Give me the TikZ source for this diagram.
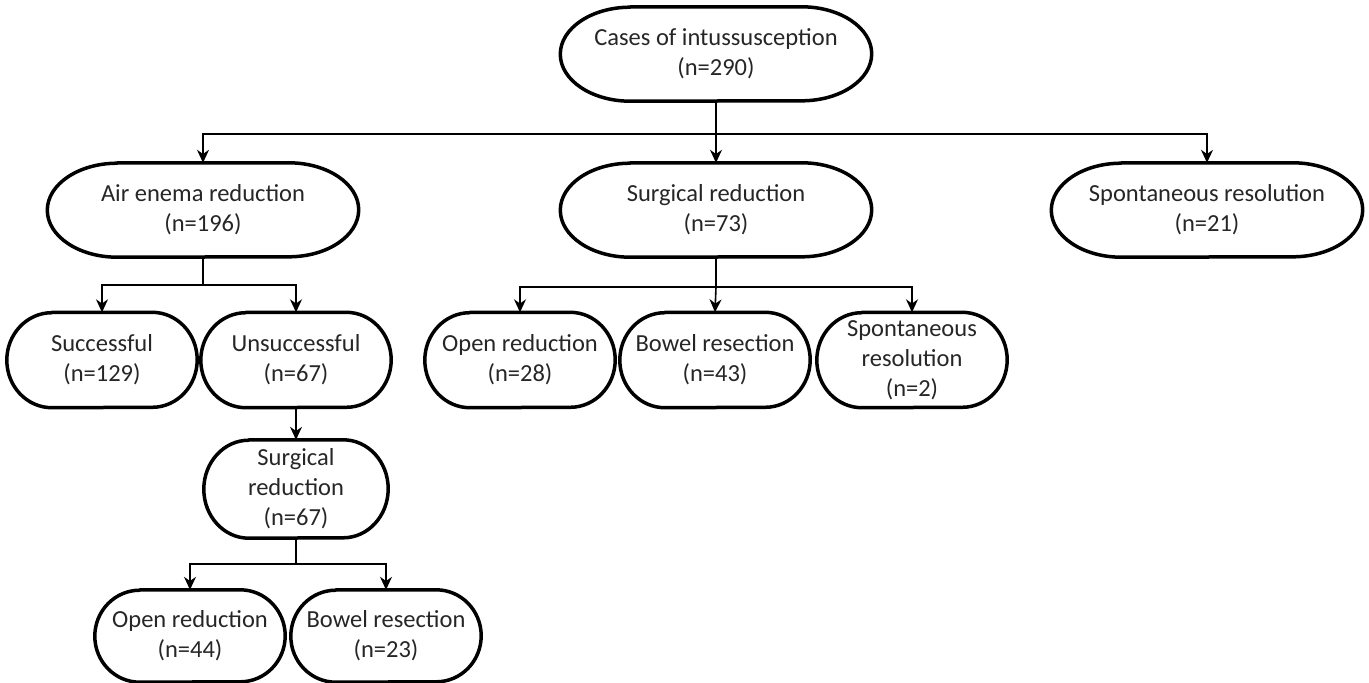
\documentclass[tikz,border=0pt]{standalone}
\usepackage{fontspec}
\setmainfont{Carlito}
\usetikzlibrary{arrows.meta}
\begin{document}
\begin{tikzpicture}[x=1pt,y=-1pt]
    \tikzset{
        stadium/.style={inner sep=0pt, align=center, text=black!85, font=\fontsize{24.5}{30}\selectfont},
        wide/.style={stadium, minimum width=311pt, minimum height=94pt},
        narrow/.style={stadium, minimum width=190pt, minimum height=95pt},
        outline/.style={line width=3.5pt, line join=round},
        link/.style={line width=1.6pt},
        arr/.style={link, -{Stealth[length=13pt,width=12pt]}}
    };
    \useasboundingbox (0,0) rectangle (1369,683);
    \node[wide] (cases) at (716,54) {Cases of intussusception\\(n=290)};
    \node[wide] (air) at (203,210) {Air enema reduction\\(n=196)};
    \node[wide] (surg) at (716,210) {Surgical reduction\\(n=73)};
    \node[wide] (spont) at (1207,210) {Spontaneous resolution\\(n=21)};
    \node[narrow] (succ) at (102,360) {Successful\\(n=129)};
    \node[narrow] (unsucc) at (296,360) {Unsuccessful\\(n=67)};
    \node[narrow] (open28) at (520,360) {Open reduction\\(n=28)};
    \node[narrow] (bowel43) at (715,360) {Bowel resection\\(n=43)};
    \node[narrow] (spont2) at (912,360) {Spontaneous\\resolution\\(n=2)};
    \node[narrow, minimum width=184pt, minimum height=98pt] (surg67) at (296,489) {Surgical\\reduction\\(n=67)};
    \node[narrow, minimum height=92pt] (open44) at (190,636) {Open reduction\\(n=44)};
    \node[narrow, minimum height=92pt] (bowel23) at (386,636) {Bowel resection\\(n=23)};

    \foreach \n/\rx/\ry in {cases/70/47, air/70/47, surg/70/47, spont/70/47,
        succ/45/47.5, unsucc/45/47.5, open28/45/47.5, bowel43/45/47.5, spont2/45/47.5,
        surg67/45/49, open44/45/46, bowel23/45/46}
        \draw[outline] ([xshift=\rx pt]\n.north west) -- ([xshift=-\rx pt]\n.north east)
            arc[start angle=90, end angle=-90, x radius=\rx pt, y radius=\ry pt]
            -- ([xshift=\rx pt]\n.south west)
            arc[start angle=270, end angle=90, x radius=\rx pt, y radius=\ry pt] -- cycle;

    \coordinate (busTop) at (716,134);
    \coordinate (busAir) at (203,285);
    \coordinate (busSurg) at (716,287);
    \coordinate (busLow) at (296,564);

    \draw[link] (cases.south) -- (busTop);
    \draw[arr] (busTop) -| (air.north);
    \draw[arr] (busTop) -- (surg.north);
    \draw[arr] (busTop) -| (spont.north);

    \draw[link] (air.south) -- (busAir);
    \draw[arr] (busAir) -| (succ.north);
    \draw[arr] (busAir) -| (unsucc.north);

    \draw[link] (surg.south) -- (busSurg);
    \draw[arr] (busSurg) -| (open28.north);
    \draw[arr] (busSurg) -- (bowel43.north);
    \draw[arr] (busSurg) -| (spont2.north);

    \draw[arr] (unsucc.south) -- (surg67.north);
    \draw[link] (surg67.south) -- (busLow);
    \draw[arr] (busLow) -| (open44.north);
    \draw[arr] (busLow) -| (bowel23.north);
\end{tikzpicture}
\end{document}
